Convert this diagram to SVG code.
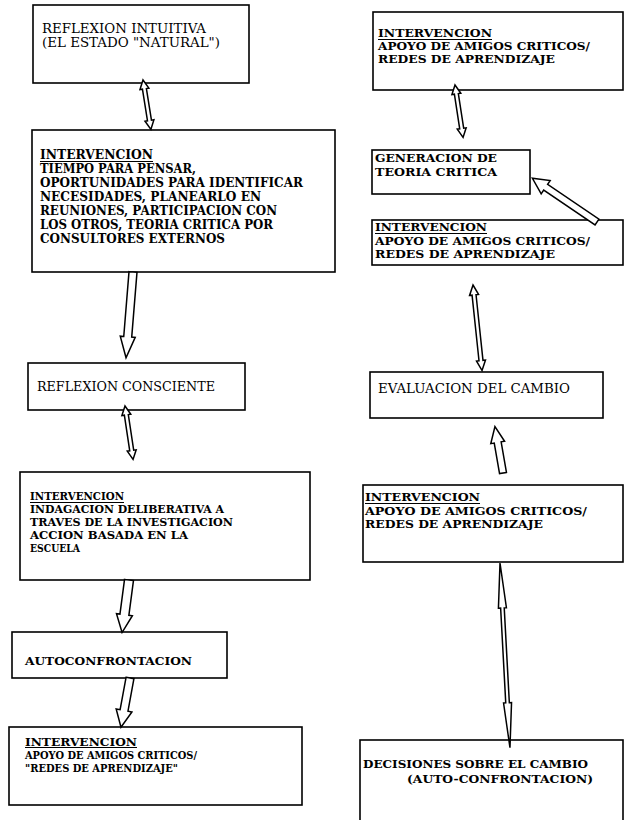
<svg xmlns="http://www.w3.org/2000/svg" width="625" height="820" viewBox="0 0 625 820">
  <style>
    .box { fill: #ffffff; stroke: #000000; stroke-width: 1.6; }
    .t { font-family: "DejaVu Serif", "Liberation Serif", serif; fill: #000000; }
    .r { font-weight: normal; }
    .b { font-weight: bold; }
    .ul { stroke: #000000; stroke-width: 1; }
    .arrow { fill: #ffffff; stroke: #000000; stroke-width: 1.5; stroke-linejoin: miter; }
  </style>
  <rect x="0" y="0" width="625" height="820" fill="#ffffff"/>

  <!-- left column -->
  <g id="reflexion-intuitiva">
    <rect class="box" x="33" y="5" width="216" height="78"/>
    <text class="t r" font-size="12" x="42" y="33" textLength="164" lengthAdjust="spacingAndGlyphs">REFLEXION INTUITIVA</text>
    <text class="t r" font-size="12" x="42" y="47" textLength="178" lengthAdjust="spacingAndGlyphs">(EL ESTADO "NATURAL")</text>
  </g>

  <g id="intervencion-tiempo">
    <rect class="box" x="32" y="130" width="303" height="142"/>
    <text class="t b" font-size="12.5" x="40" y="159" textLength="113" lengthAdjust="spacingAndGlyphs">INTERVENCION</text>
    <line class="ul" x1="40" y1="161.5" x2="153" y2="161.5"/>
    <text class="t b" font-size="12.5" x="40" y="173" textLength="156" lengthAdjust="spacingAndGlyphs">TIEMPO PARA PENSAR,</text>
    <text class="t b" font-size="12.5" x="40" y="187" textLength="263" lengthAdjust="spacingAndGlyphs">OPORTUNIDADES PARA IDENTIFICAR</text>
    <text class="t b" font-size="12.5" x="40" y="201" textLength="221" lengthAdjust="spacingAndGlyphs">NECESIDADES, PLANEARLO EN</text>
    <text class="t b" font-size="12.5" x="40" y="215" textLength="237" lengthAdjust="spacingAndGlyphs">REUNIONES, PARTICIPACION CON</text>
    <text class="t b" font-size="12.5" x="40" y="229" textLength="233" lengthAdjust="spacingAndGlyphs">LOS OTROS, TEORIA CRITICA POR</text>
    <text class="t b" font-size="12.5" x="40" y="243" textLength="185" lengthAdjust="spacingAndGlyphs">CONSULTORES EXTERNOS</text>
  </g>

  <g id="reflexion-consciente">
    <rect class="box" x="28" y="363" width="217" height="47"/>
    <text class="t r" font-size="12" x="37" y="391" textLength="178" lengthAdjust="spacingAndGlyphs">REFLEXION CONSCIENTE</text>
  </g>

  <g id="intervencion-indagacion">
    <rect class="box" x="20" y="472" width="290" height="108"/>
    <text class="t b" font-size="11.5" x="30" y="500" textLength="94" lengthAdjust="spacingAndGlyphs">INTERVENCION</text>
    <line class="ul" x1="30" y1="502.5" x2="124" y2="502.5"/>
    <text class="t b" font-size="11.5" x="30" y="513" textLength="194" lengthAdjust="spacingAndGlyphs">INDAGACION DELIBERATIVA A</text>
    <text class="t b" font-size="11.5" x="30" y="526" textLength="203" lengthAdjust="spacingAndGlyphs">TRAVES DE LA INVESTIGACION</text>
    <text class="t b" font-size="11.5" x="30" y="539" textLength="158" lengthAdjust="spacingAndGlyphs">ACCION BASADA EN LA</text>
    <text class="t b" font-size="11.5" x="30" y="552" textLength="50" lengthAdjust="spacingAndGlyphs">ESCUELA</text>
  </g>

  <g id="autoconfrontacion">
    <rect class="box" x="12" y="632" width="215" height="46"/>
    <text class="t b" font-size="11.5" x="25" y="665" textLength="167" lengthAdjust="spacingAndGlyphs">AUTOCONFRONTACION</text>
  </g>

  <g id="intervencion-redes-izq">
    <rect class="box" x="9" y="727" width="293" height="78"/>
    <text class="t b" font-size="10.5" x="25" y="745.5" textLength="112" lengthAdjust="spacingAndGlyphs">INTERVENCION</text>
    <line class="ul" x1="25" y1="747.5" x2="137" y2="747.5"/>
    <text class="t b" font-size="10.5" x="25" y="758.5" textLength="172" lengthAdjust="spacingAndGlyphs">APOYO DE AMIGOS CRITICOS/</text>
    <text class="t b" font-size="10.5" x="25" y="771.5" textLength="153" lengthAdjust="spacingAndGlyphs">"REDES DE APRENDIZAJE"</text>
  </g>

  <!-- right column -->
  <g id="intervencion-redes-1">
    <rect class="box" x="373" y="12" width="250" height="78"/>
    <text class="t b" font-size="11.5" x="378" y="37" textLength="114" lengthAdjust="spacingAndGlyphs">INTERVENCION</text>
    <line class="ul" x1="378" y1="39.5" x2="492" y2="39.5"/>
    <text class="t b" font-size="11.5" x="378" y="50" textLength="212" lengthAdjust="spacingAndGlyphs">APOYO DE AMIGOS CRITICOS/</text>
    <text class="t b" font-size="11.5" x="378" y="63" textLength="177" lengthAdjust="spacingAndGlyphs">REDES DE APRENDIZAJE</text>
  </g>

  <g id="generacion-teoria">
    <rect class="box" x="372" y="150" width="158" height="44"/>
    <text class="t b" font-size="11.5" x="375" y="162" textLength="122" lengthAdjust="spacingAndGlyphs">GENERACION DE</text>
    <text class="t b" font-size="11.5" x="375" y="176" textLength="122" lengthAdjust="spacingAndGlyphs">TEORIA CRITICA</text>
  </g>

  <g id="intervencion-redes-2">
    <rect class="box" x="372" y="220" width="251" height="45"/>
    <text class="t b" font-size="11.5" x="375" y="231" textLength="112" lengthAdjust="spacingAndGlyphs">INTERVENCION</text>
    <line class="ul" x1="375" y1="233.5" x2="487" y2="233.5"/>
    <text class="t b" font-size="11.5" x="375" y="245" textLength="215" lengthAdjust="spacingAndGlyphs">APOYO DE AMIGOS CRITICOS/</text>
    <text class="t b" font-size="11.5" x="375" y="258" textLength="180" lengthAdjust="spacingAndGlyphs">REDES DE APRENDIZAJE</text>
  </g>

  <g id="evaluacion-cambio">
    <rect class="box" x="370" y="372" width="233" height="46"/>
    <text class="t r" font-size="12" x="378" y="393" textLength="192" lengthAdjust="spacingAndGlyphs">EVALUACION DEL CAMBIO</text>
  </g>

  <g id="intervencion-redes-3">
    <rect class="box" x="363" y="485" width="260" height="77"/>
    <text class="t b" font-size="11" x="365" y="501" textLength="115" lengthAdjust="spacingAndGlyphs">INTERVENCION</text>
    <line class="ul" x1="365" y1="503.5" x2="480" y2="503.5"/>
    <text class="t b" font-size="11" x="365" y="515" textLength="222" lengthAdjust="spacingAndGlyphs">APOYO DE AMIGOS CRITICOS/</text>
    <text class="t b" font-size="11" x="365" y="528" textLength="178" lengthAdjust="spacingAndGlyphs">REDES DE APRENDIZAJE</text>
  </g>

  <g id="decisiones-cambio">
    <rect class="box" x="360" y="740" width="263" height="90"/>
    <text class="t b" font-size="11.5" x="363" y="768" textLength="225" lengthAdjust="spacingAndGlyphs">DECISIONES SOBRE EL CAMBIO</text>
    <text class="t b" font-size="11.5" x="407" y="783" textLength="186" lengthAdjust="spacingAndGlyphs">(AUTO-CONFRONTACION)</text>
  </g>

  <!-- hollow block arrows; each drawn along +y and rotated into place -->
  <g id="connectors">
    <polygon class="arrow" transform="translate(143,80) rotate(-9.09)" points="0,0 4.5,9 2,9 2,41 4.5,41 0,50 -4.5,41 -2,41 -2,9 -4.5,9"/>
    <polygon class="arrow" transform="translate(133,272) rotate(4.65)" points="-4,0 4,0 4,65 7.5,65 0,86 -7.5,65 -4,65"/>
    <polygon class="arrow" transform="translate(125,406) rotate(-8.58)" points="0,0 4.5,9 2,9 2,45 4.5,45 0,54 -4.5,45 -2,45 -2,9 -4.5,9"/>
    <polygon class="arrow" transform="translate(129,580) rotate(7.52)" points="-4.5,0 4.5,0 4.5,35 8,35 0,53 -8,35 -4.5,35"/>
    <polygon class="arrow" transform="translate(130,678) rotate(10.4)" points="-4,0 4,0 4,33 8,33 0,50 -8,33 -4,33"/>

    <polygon class="arrow" transform="translate(455,85) rotate(-8.75)" points="0,0 4.5,9 2,9 2,44 4.5,44 0,53 -4.5,44 -2,44 -2,9 -4.5,9"/>
    <polygon class="arrow" transform="translate(597,222) rotate(124.1)" points="-3.5,0 3.5,0 3.5,62 8,62 0,78 -8,62 -3.5,62"/>
    <polygon class="arrow" transform="translate(473,285) rotate(-6.04)" points="0,0 4.5,10 2,10 2,76 4.5,76 0,86 -4.5,76 -2,76 -2,10 -4.5,10"/>
    <polygon class="arrow" transform="translate(503,473) rotate(170.13)" points="-3.5,0 3.5,0 3.5,31 7,31 0,47 -7,31 -3.5,31"/>
    <polygon class="arrow" transform="translate(500,563) rotate(-3.09)" points="0,0 4,45 1.8,45 1.8,140 4,140 0,185 -4,140 -1.8,140 -1.8,45 -4,45"/>
  </g>
</svg>
